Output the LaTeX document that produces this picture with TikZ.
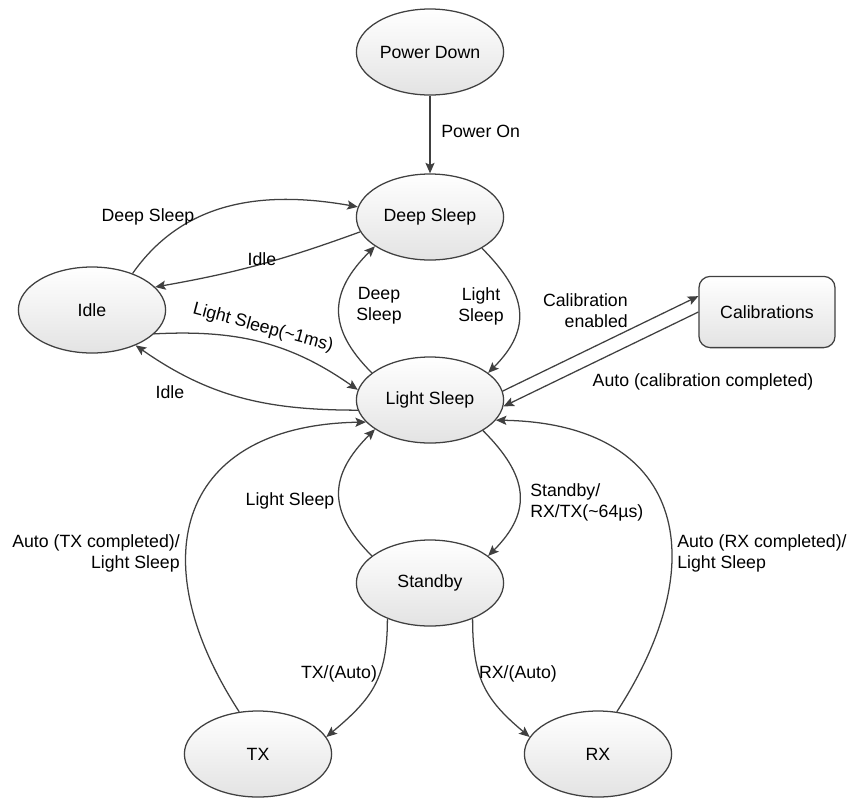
\documentclass[tikz,border=0pt]{standalone}
\usepackage{fontspec}
\setmainfont{Liberation Sans}
\usetikzlibrary{shapes.geometric, arrows.meta}

\begin{document}
\begin{tikzpicture}[x=0.025cm, y=-0.025cm,
  font=\fontsize{12.6}{15}\selectfont,
  state/.style={ellipse, draw=black!75, line width=0.9pt, top color=white,
    bottom color=black!11, minimum width=3.68cm, minimum height=2.15cm, inner sep=0pt},
  calbox/.style={rectangle, rounded corners=8pt, draw=black!75, line width=0.9pt,
    top color=white, bottom color=black!11, minimum width=3.4cm, minimum height=1.78cm},
  trans/.style={draw=black!75, line width=0.9pt, -{Stealth[length=7.5pt, width=6.5pt, inset=1.5pt]}},
  lbl/.style={inner sep=0pt, align=center}]
  \useasboundingbox (0,0) rectangle (849,798);

  \node[state] (pd) at (430,52) {Power Down};
  \node[state] (ds) at (430,217) {Deep Sleep};
  \node[state] (idle) at (92,310) {Idle};
  \node[state] (ls) at (430,400) {Light Sleep};
  \node[calbox] (cal) at (767,312) {Calibrations};
  \node[state] (sb) at (430,583) {Standby};
  \node[state] (tx) at (258,754) {TX};
  \node[state] (rx) at (598,754) {RX};

  \draw[trans] (pd) -- (ds);
  \draw[trans] (idle.42) to[out=55, in=170] (ds.172);
  \draw[trans] (ds.192) to[out=200, in=10] (idle.20);
  \draw[trans] (idle.-21) to[out=3, in=145] (ls.172);
  \draw[trans] (ls.188) to[out=180, in=-35] (idle.-39);
  \draw[trans] (ds.-31) to[out=-45, in=45, looseness=1.3] (ls.25);
  \draw[trans] (ls.155) to[out=135, in=-135, looseness=1.3] (ds.208);
  \draw[trans] (ls.7) -- (cal.167.5);
  \draw[trans] (cal.west) -- (ls.-5);
  \draw[trans] (ls.-30) to[out=-45, in=45, looseness=1.3] (sb.25);
  \draw[trans] (sb.155) to[out=135, in=-135, looseness=1.3] (ls.208);
  \draw[trans] (sb.220) to[out=-90, in=40, looseness=1.15] (tx.14);
  \draw[trans] (sb.-40) to[out=-90, in=140, looseness=1.15] (rx.166);
  \draw[trans] (tx.114) to[out=123, in=181, looseness=1.5] (ls.199);
  \draw[trans] (rx.66) to[out=57, in=-1, looseness=1.5] (ls.-17);

  \node[lbl, anchor=west] (lpon) at (441,131) {Power On};
  \node[lbl] (lds1) at (148,217) {Deep Sleep};
  \node[lbl] (lidle1) at (262,259) {Idle};
  \node[lbl, rotate=-15] (lls1) at (263,328) {Light Sleep(\textasciitilde1ms)};
  \node[lbl] (lidle2) at (170,392) {Idle};
  \node[lbl] (lds2) at (379,306) {Deep\\Sleep};
  \node[lbl] (lls2) at (481,306) {Light\\Sleep};
  \node[lbl, align=right, anchor=east] (lcal1) at (628,311) {Calibration\\enabled};
  \node[lbl] (lcal2) at (703,382) {Auto (calibration completed)};
  \node[lbl, align=left, anchor=west] (lsb) at (530,502) {Standby/\\RX/TX(\textasciitilde64µs)};
  \node[lbl] (lls3) at (290,501) {Light Sleep};
  \node[lbl] (ltx) at (339,674) {TX/(Auto)};
  \node[lbl] (lrx) at (518,674) {RX/(Auto)};
  \node[lbl, align=right, anchor=east] (ltxd) at (180,553) {Auto (TX completed)/\\Light Sleep};
  \node[lbl, align=left, anchor=west] (lrxd) at (677,553) {Auto (RX completed)/\\Light Sleep};
\end{tikzpicture}
\end{document}
